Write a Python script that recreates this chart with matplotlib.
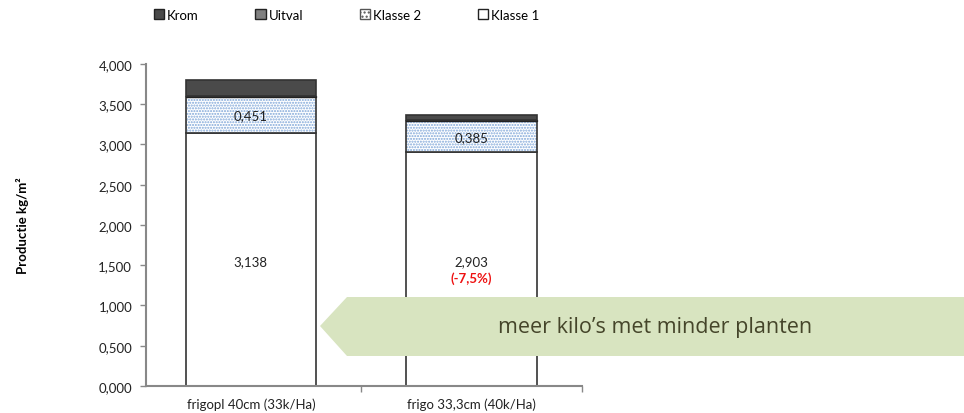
import matplotlib
matplotlib.use("Agg")
import matplotlib.pyplot as plt
from matplotlib.patches import Polygon, Patch
import numpy as np

categories = ["frigopl 40cm (33k/Ha)", "frigo 33,3cm (40k/Ha)"]
klasse1 = [3.138, 2.903]
klasse2 = [0.451, 0.385]
uitval = [0.015, 0.015]
krom = [0.196, 0.063]
klasse1_labels = ["3,138", "2,903"]
klasse2_labels = ["0,451", "0,385"]
yticks = [0, 0.5, 1, 1.5, 2, 2.5, 3, 3.5, 4]
ytick_labels = ["0,000", "0,500", "1,000", "1,500", "2,000", "2,500", "3,000", "3,500", "4,000"]

plt.rcParams['font.family'] = ['Lato', 'DejaVu Sans']
fig = plt.figure(figsize=(9.64, 4.14), dpi=100)
ax = fig.add_axes([0.1515, 0.0652, 0.452, 0.778])

x = np.arange(len(categories))
w = 0.59
k1 = np.array(klasse1); k2 = np.array(klasse2); u = np.array(uitval); kr = np.array(krom)

ax.bar(x, k1, w, color="white", edgecolor="#333333", linewidth=1.2, zorder=2)
ax.bar(x, k2, w, bottom=k1, color="white", edgecolor="#7fa6d8", hatch="......", linewidth=0, zorder=2)
ax.bar(x, k2, w, bottom=k1, fill=False, edgecolor="#333333", linewidth=1.2, zorder=3)
ax.bar(x, u, w, bottom=k1 + k2, color="#222222", edgecolor="#222222", linewidth=1.0, zorder=3)
ax.bar(x, kr, w, bottom=k1 + k2 + u, color="#4a4a4a", edgecolor="#333333", linewidth=1.2, zorder=3)

for i in range(len(categories)):
    ax.text(x[i], 1.545, klasse1_labels[i], ha="center", va="center", fontsize=9.5, color="#222222", zorder=5)
    ax.text(x[i], k1[i] + k2[i] / 2, klasse2_labels[i], ha="center", va="center", fontsize=9.5, color="#222222", zorder=5)
ax.text(x[1], 1.34, "(-7,5%)", ha="center", va="center", fontsize=9.5, color="#ee1111", fontweight="bold", zorder=5)

ax.set_xlim(-0.475, 1.5)
ax.set_ylim(0, 4)
ax.set_yticks(yticks)
ax.set_yticklabels(ytick_labels, fontsize=9.5, color="#222222")
ax.set_xticks(x)
ax.set_xticklabels(categories, fontsize=9.5, color="#222222")
ax.tick_params(axis="x", length=0, pad=8)
ax.set_xticks([0.5, 1.5], minor=True)
ax.tick_params(axis="x", which="minor", length=4, color="#888888", width=1)
ax.tick_params(axis="y", length=4, color="#888888", width=1, pad=6)
for s in ["top", "right"]:
    ax.spines[s].set_visible(False)
for s in ["left", "bottom"]:
    ax.spines[s].set_color("#888888")
    ax.spines[s].set_linewidth(1.5)
ax.set_ylabel("Productie kg/m²", fontsize=9.5, fontweight="bold", labelpad=50)

handles = [Patch(facecolor="#4a4a4a", edgecolor="#222222"),
           Patch(facecolor="#808080", edgecolor="#222222"),
           Patch(facecolor="white", edgecolor="#555555", hatch="...."),
           Patch(facecolor="white", edgecolor="#222222")]
fig.legend(handles, ["Krom", "Uitval", "Klasse 2", "Klasse 1"], loc="center left",
           bbox_to_anchor=(0.147, 0.962), ncol=4, frameon=False, fontsize=9.5,
           handlelength=0.8, handleheight=0.8, handletextpad=0.2, columnspacing=4.3)

# callout arrow
arrow = Polygon([(320/964, 1-327/414), (347/964, 1-298/414), (1.0, 1-298/414),
                 (1.0, 1-357/414), (347/964, 1-357/414)], closed=True,
                transform=fig.transFigure, facecolor="#d8e4c0", edgecolor="none", zorder=10)
fig.patches.append(arrow)
fig.text(655/964, 1-328/414, "meer kilo’s met minder planten", ha="center", va="center",
         fontsize=15.5, color="#45452a", family=["Open Sans", "DejaVu Sans"], zorder=11)

fig.savefig("out.png", dpi=100)
